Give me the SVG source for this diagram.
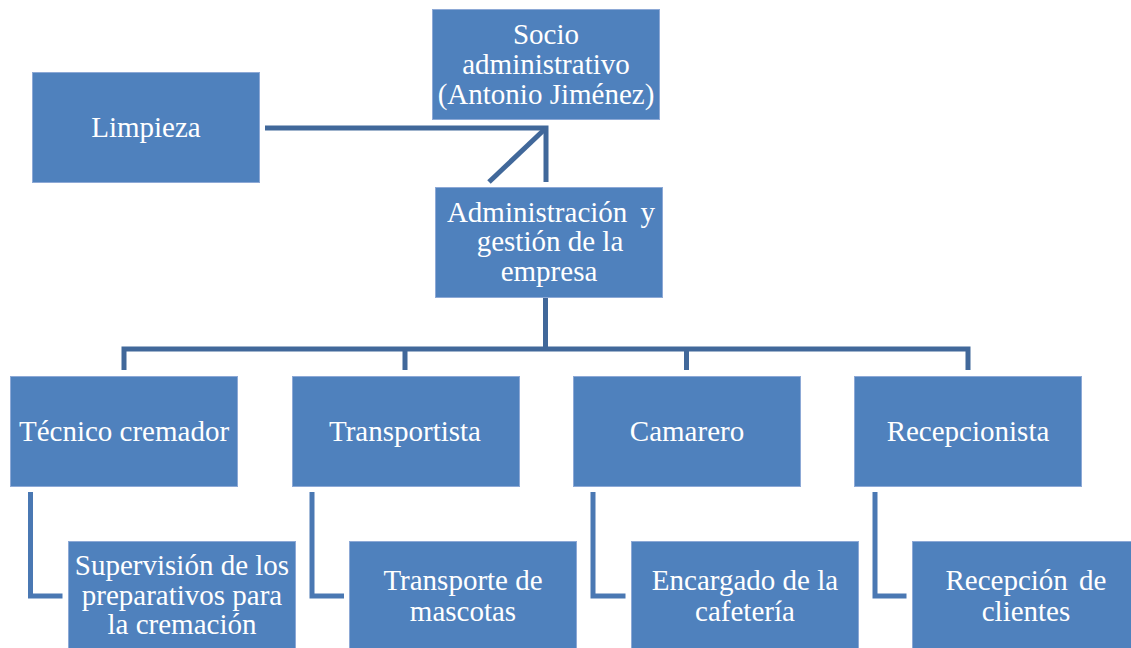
<svg xmlns="http://www.w3.org/2000/svg" width="1131" height="648" viewBox="0 0 1131 648">
<style>
.box{fill:#4F81BD;stroke:#8DA9D6;stroke-width:1}
.t{font-family:"Liberation Serif","Times New Roman",serif;font-size:29px;fill:#FFFFFF;text-anchor:middle}
.c{fill:none;stroke:#41689A;stroke-width:5}
.e{fill:none;stroke:#4A78B3;stroke-width:5}
</style>
<rect width="1131" height="648" fill="#FFFFFF"/>
<g id="connectors">
<path class="c" d="M265,128 H546 V182"/>
<path class="c" d="M546,128 L489,182"/>
<path class="c" d="M545.5,297 V349 M124,370 V349 H968 V370 M405,349 V370 M686.5,349 V370"/>
<path class="e" d="M30.5,492 V596 H62.5"/>
<path class="e" d="M312,492 V596 H344"/>
<path class="e" d="M593,492 V596 H625.5"/>
<path class="e" d="M875,492 V596 H906.5"/>
</g>
<g id="socio"><rect class="box" x="432.5" y="9.5" width="227" height="110"/>
<text class="t" x="546" y="44">Socio</text><text class="t" x="546" y="74">administrativo</text><text class="t" x="546" y="104">(Antonio Jiménez)</text></g>
<g id="limpieza"><rect class="box" x="32.5" y="72.5" width="227" height="110"/>
<text class="t" x="146" y="137">Limpieza</text></g>
<g id="admin"><rect class="box" x="435.5" y="187.5" width="227" height="110"/>
<text class="t" x="551" y="222" word-spacing="6">Administración y</text><text class="t" x="550" y="251">gestión de la</text><text class="t" x="549" y="281">empresa</text></g>
<g id="tecnico"><rect class="box" x="10.5" y="376.5" width="227" height="110"/>
<text class="t" x="124" y="441">Técnico cremador</text></g>
<g id="transportista"><rect class="box" x="292.5" y="376.5" width="227" height="110"/>
<text class="t" x="405" y="441">Transportista</text></g>
<g id="camarero"><rect class="box" x="573.5" y="376.5" width="227" height="110"/>
<text class="t" x="687" y="441">Camarero</text></g>
<g id="recepcionista"><rect class="box" x="854.5" y="376.5" width="227" height="110"/>
<text class="t" x="968" y="441">Recepcionista</text></g>
<g id="supervision"><rect class="box" x="68.5" y="541.5" width="227" height="110"/>
<text class="t" x="182" y="575">Supervisión de los</text><text class="t" x="182" y="605">preparativos para</text><text class="t" x="182" y="634">la cremación</text></g>
<g id="transporte"><rect class="box" x="349.5" y="541.5" width="227" height="110"/>
<text class="t" x="463" y="590">Transporte de</text><text class="t" x="463" y="621">mascotas</text></g>
<g id="encargado"><rect class="box" x="631.5" y="541.5" width="227" height="110"/>
<text class="t" x="745" y="590">Encargado de la</text><text class="t" x="745" y="621">cafetería</text></g>
<g id="recepcion"><rect class="box" x="912.5" y="541.5" width="227" height="110"/>
<text class="t" x="1026" y="590" word-spacing="4">Recepción de</text><text class="t" x="1026" y="621">clientes</text></g>
</svg>
